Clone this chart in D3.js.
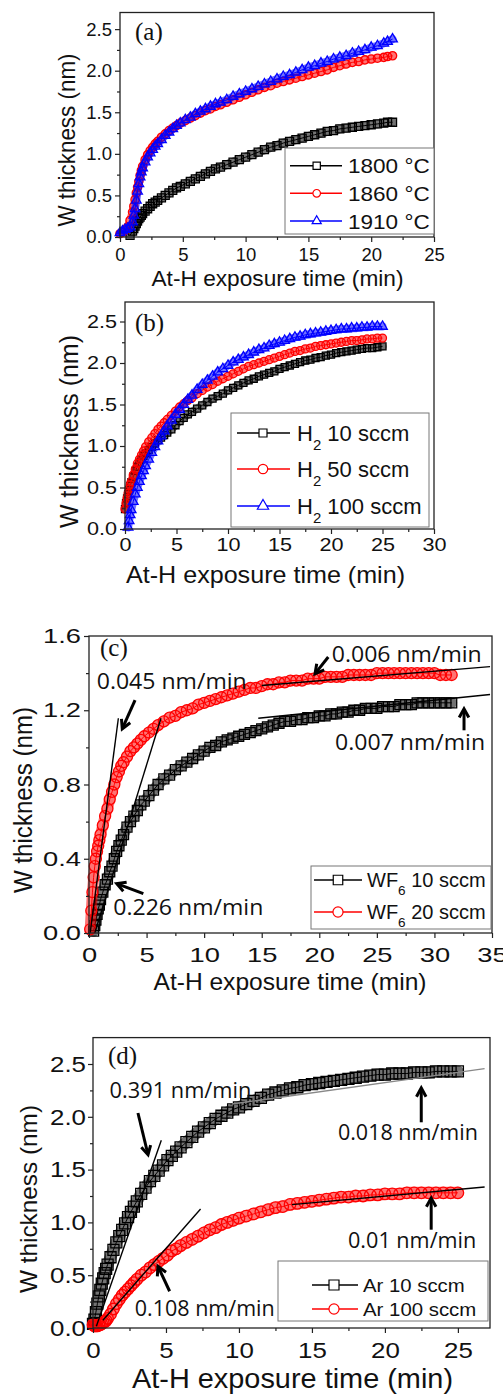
<!DOCTYPE html>
<html>
<head>
<meta charset="utf-8">
<script src="https://cdn.jsdelivr.net/npm/d3@7"></script>
<style>
  body { margin: 0; background: #fff; }
  svg { display: block; }
</style>
</head>
<body>
<div id="chart"></div>
<script>
// ---------- data ----------

// (a) substrate temperature
var timesA = [0, 0.2, 0.4, 0.6, 0.8, 1.0, 1.1, 1.2, 1.3, 1.4, 1.5, 1.6, 1.7, 1.8, 2.0, 2.2, 2.4, 2.6, 2.8, 3.0,
  3.3, 3.6, 3.9, 4.2, 4.5, 4.8, 5.2, 5.6, 6.0, 6.4, 6.8, 7.2, 7.6, 8.0, 8.5, 9.0, 9.5, 10.0, 10.5, 11.0,
  11.5, 12.0, 12.5, 13.0, 13.5, 14.0, 14.5, 15.0, 15.5, 16.0, 16.5, 17.0, 17.5, 18.0, 18.5, 19.0, 19.5, 20.0,
  20.5, 21.0, 21.3, 21.7];
var w1800 = [null, null, null, null, 0.02, 0.07, 0.1, 0.13, 0.16, 0.19, 0.22, 0.24, 0.26, 0.28, 0.31, 0.34, 0.37, 0.4, 0.42, 0.44,
  0.47, 0.5, 0.53, 0.56, 0.59, 0.61, 0.64, 0.67, 0.7, 0.73, 0.76, 0.79, 0.82, 0.84, 0.87, 0.9, 0.93, 0.96, 0.99, 1.02,
  1.05, 1.08, 1.1, 1.13, 1.15, 1.17, 1.19, 1.21, 1.23, 1.25, 1.27, 1.28, 1.3, 1.31, 1.32, 1.33, 1.34, 1.35,
  1.36, 1.37, 1.38, 1.38];
var w1860 = [0.04, 0.06, 0.08, 0.12, 0.2, 0.3, 0.37, 0.45, 0.53, 0.6, 0.67, 0.74, 0.8, 0.85, 0.93, 0.99, 1.04, 1.08, 1.12, 1.15,
  1.2, 1.24, 1.28, 1.31, 1.34, 1.37, 1.4, 1.43, 1.46, 1.49, 1.52, 1.54, 1.57, 1.59, 1.62, 1.65, 1.68, 1.71, 1.74, 1.77,
  1.8, 1.82, 1.85, 1.87, 1.89, 1.91, 1.93, 1.95, 1.97, 1.99, 2.01, 2.04, 2.06, 2.08, 2.1, 2.11, 2.13, 2.14,
  2.15, 2.16, 2.17, 2.18];
var w1910 = [0.05, 0.07, 0.09, 0.1, 0.12, 0.18, 0.26, 0.34, 0.44, 0.55, 0.64, 0.72, 0.78, 0.83, 0.9, 0.96, 1.01, 1.05, 1.09, 1.12,
  1.17, 1.22, 1.26, 1.3, 1.34, 1.37, 1.41, 1.44, 1.48, 1.51, 1.54, 1.57, 1.6, 1.62, 1.65, 1.69, 1.72, 1.75, 1.78, 1.81,
  1.84, 1.87, 1.9, 1.93, 1.95, 1.98, 2.01, 2.04, 2.06, 2.09, 2.11, 2.14, 2.16, 2.18, 2.21, 2.23, 2.25, 2.28,
  2.3, 2.33, 2.35, 2.38];
var legendA = ["1800 °C", "1860 °C", "1910 °C"];

// (b) H2 flow
var timesB = [0, 0.1, 0.2, 0.3, 0.4, 0.5, 0.6, 0.8, 1.0, 1.2, 1.4, 1.6, 1.8, 2.0, 2.3, 2.6, 2.9, 3.2, 3.5, 3.8, 4.1,
  4.5, 4.9, 5.3, 5.7, 6.1, 6.5, 7.0, 7.5, 8.0, 8.5, 9.0, 9.5, 10.0, 10.5, 11.0, 11.5, 12.0, 12.5, 13.0, 13.5,
  14.0, 14.5, 15.0, 15.5, 16.0, 16.5, 17.0, 17.5, 18.0, 18.5, 19.0, 19.5, 20.0, 20.5, 21.0, 21.5, 22.0, 22.5,
  23.0, 23.5, 24.0, 24.5, 25.0];
var wH10 = [0.24, 0.31, 0.37, 0.42, 0.47, 0.52, 0.56, 0.63, 0.7, 0.75, 0.8, 0.84, 0.88, 0.91, 0.95, 0.99, 1.03, 1.07, 1.1, 1.13, 1.16,
  1.2, 1.25, 1.3, 1.34, 1.38, 1.41, 1.45, 1.49, 1.53, 1.57, 1.6, 1.63, 1.67, 1.7, 1.73, 1.76, 1.79, 1.81, 1.84, 1.86,
  1.88, 1.9, 1.93, 1.95, 1.97, 1.99, 2.01, 2.03, 2.04, 2.06, 2.07, 2.09, 2.1, 2.12, 2.13, 2.14, 2.15, 2.16,
  2.17, 2.18, 2.18, 2.19, 2.2];
var wH50 = [0.24, 0.31, 0.37, 0.43, 0.48, 0.53, 0.57, 0.65, 0.72, 0.79, 0.84, 0.89, 0.94, 0.99, 1.05, 1.1, 1.15, 1.2, 1.24, 1.28, 1.32,
  1.37, 1.42, 1.47, 1.51, 1.55, 1.58, 1.63, 1.67, 1.71, 1.74, 1.78, 1.81, 1.84, 1.87, 1.9, 1.93, 1.96, 1.98, 2.0, 2.02,
  2.04, 2.06, 2.08, 2.1, 2.12, 2.14, 2.15, 2.17, 2.18, 2.2, 2.21, 2.22, 2.23, 2.24, 2.25, 2.26, 2.27, 2.27,
  2.28, 2.29, 2.29, 2.3, 2.3];
var wH100 = [null, null, null, 0.02, 0.1, 0.17, 0.23, 0.33, 0.42, 0.5, 0.57, 0.64, 0.7, 0.76, 0.84, 0.92, 0.99, 1.06, 1.12, 1.18, 1.24,
  1.31, 1.38, 1.44, 1.5, 1.56, 1.61, 1.68, 1.74, 1.79, 1.84, 1.89, 1.93, 1.97, 2.01, 2.04, 2.07, 2.1, 2.13, 2.16, 2.18,
  2.21, 2.23, 2.25, 2.27, 2.29, 2.31, 2.32, 2.34, 2.35, 2.36, 2.37, 2.38, 2.39, 2.4, 2.41, 2.41, 2.42, 2.42,
  2.43, 2.43, 2.44, 2.44, 2.44];
var legendB = [["H", "2", " 10 sccm"], ["H", "2", " 50 sccm"], ["H", "2", " 100 sccm"]];

// (c) WF6 flow
var timesC = [0, 0.1, 0.2, 0.3, 0.4, 0.5, 0.6, 0.7, 0.8, 0.9, 1.0, 1.2, 1.4, 1.6, 1.8, 2.0, 2.2, 2.4, 2.6, 2.8, 3.0,
  3.3, 3.6, 3.9, 4.2, 4.5, 4.8, 5.2, 5.6, 6.0, 6.5, 7.0, 7.5, 8.0, 8.5, 9.0, 9.5, 10.0, 10.5, 11.0, 11.5, 12.0,
  12.5, 13.0, 13.5, 14.0, 14.5, 15.0, 15.5, 16.0, 16.5, 17.0, 17.5, 18.0, 18.5, 19.0, 19.5, 20.0, 20.5, 21.0,
  21.5, 22.0, 22.5, 23.0, 23.5, 24.0, 24.5, 25.0, 25.5, 26.0, 26.5, 27.0, 27.5, 28.0, 28.5, 29.0, 29.5, 30.0,
  30.5, 31.0, 31.5];
var wWF10 = [null, null, null, null, 0.01, 0.04, 0.07, 0.1, 0.13, 0.15, 0.18, 0.22, 0.26, 0.29, 0.33, 0.36, 0.4, 0.44, 0.47, 0.5, 0.53,
  0.57, 0.6, 0.63, 0.66, 0.69, 0.71, 0.74, 0.77, 0.8, 0.83, 0.85, 0.88, 0.9, 0.92, 0.94, 0.96, 0.98, 1.0, 1.01, 1.03, 1.04,
  1.05, 1.06, 1.07, 1.08, 1.09, 1.1, 1.11, 1.12, 1.13, 1.14, 1.14, 1.15, 1.15, 1.16, 1.16, 1.17, 1.17, 1.18,
  1.18, 1.19, 1.19, 1.2, 1.2, 1.21, 1.21, 1.21, 1.22, 1.22, 1.22, 1.23, 1.23, 1.23, 1.24, 1.24, 1.24, 1.24,
  1.24, 1.24, 1.24];
var wWF20 = [null, 0.02, 0.12, 0.22, 0.3, 0.36, 0.4, 0.44, 0.47, 0.5, 0.53, 0.58, 0.63, 0.67, 0.72, 0.76, 0.8, 0.84, 0.87, 0.9, 0.92,
  0.95, 0.98, 1.0, 1.02, 1.04, 1.06, 1.08, 1.1, 1.12, 1.14, 1.16, 1.17, 1.19, 1.2, 1.21, 1.23, 1.24, 1.25, 1.26, 1.27, 1.28,
  1.29, 1.3, 1.31, 1.32, 1.32, 1.33, 1.34, 1.34, 1.35, 1.35, 1.36, 1.36, 1.36, 1.37, 1.37, 1.37, 1.38, 1.38,
  1.38, 1.38, 1.39, 1.39, 1.39, 1.39, 1.39, 1.4, 1.4, 1.4, 1.4, 1.4, 1.4, 1.4, 1.4, 1.4, 1.4, 1.4,
  1.39, 1.39, 1.39];
var legendC = [["WF", "6", " 10 sccm"], ["WF", "6", " 20 sccm"]];
var fitsC = [[0.1, 0, 2.55, 1.157], [0.5, 0, 6.25, 1.157], [15.0, 1.333, 34.83, 1.435], [14.7, 1.157, 34.83, 1.285]];
var arrowsC = [[20.78, 1.487, 19.63, 1.397], [4.0, 1.254, 2.89, 1.1], [32.57, 1.092, 32.57, 1.208], [4.72, 0.212, 2.41, 0.266]];
var notesC = ["0.006 nm/min", "0.045 nm/min", "0.007 nm/min", "0.226 nm/min"];
var notePosC = [[21.08, 1.46], [0.67, 1.316], [21.37, 0.984], [2.11, 0.095]];

// (d) Ar flow
var timesD = [0, 0.1, 0.2, 0.3, 0.4, 0.5, 0.6, 0.7, 0.8, 0.9, 1.0, 1.2, 1.4, 1.6, 1.8, 2.0, 2.2, 2.4, 2.6, 2.8, 3.0,
  3.3, 3.6, 3.9, 4.2, 4.5, 4.8, 5.1, 5.4, 5.7, 6.0, 6.4, 6.8, 7.2, 7.6, 8.0, 8.4, 8.8, 9.2, 9.6, 10.0,
  10.5, 11.0, 11.5, 12.0, 12.5, 13.0, 13.5, 14.0, 14.5, 15.0, 15.5, 16.0, 16.5, 17.0, 17.5, 18.0, 18.5, 19.0,
  19.5, 20.0, 20.5, 21.0, 21.5, 22.0, 22.5, 23.0, 23.5, 24.0, 24.5, 25.0];
var wAr10 = [0.04, 0.08, 0.15, 0.23, 0.3, 0.36, 0.42, 0.47, 0.52, 0.56, 0.6, 0.67, 0.74, 0.81, 0.87, 0.93, 0.99, 1.05, 1.1, 1.15, 1.2,
  1.27, 1.33, 1.39, 1.44, 1.49, 1.54, 1.59, 1.63, 1.67, 1.71, 1.76, 1.81, 1.86, 1.9, 1.94, 1.98, 2.01, 2.04, 2.07, 2.09,
  2.12, 2.15, 2.18, 2.21, 2.23, 2.25, 2.27, 2.28, 2.3, 2.31, 2.32, 2.33, 2.34, 2.35, 2.36, 2.37, 2.38, 2.39,
  2.4, 2.4, 2.41, 2.41, 2.41, 2.42, 2.42, 2.42, 2.43, 2.43, 2.43, 2.43];
var wAr100 = [0.03, 0.02, 0.02, 0.02, 0.03, 0.03, 0.04, 0.05, 0.06, 0.07, 0.09, 0.13, 0.18, 0.23, 0.27, 0.31, 0.34, 0.37, 0.4, 0.43, 0.46,
  0.5, 0.53, 0.57, 0.6, 0.63, 0.66, 0.69, 0.73, 0.75, 0.78, 0.81, 0.84, 0.87, 0.9, 0.93, 0.95, 0.98, 1.0, 1.02, 1.04,
  1.06, 1.08, 1.1, 1.12, 1.14, 1.15, 1.17, 1.18, 1.19, 1.2, 1.21, 1.22, 1.23, 1.24, 1.24, 1.25, 1.25, 1.26,
  1.26, 1.27, 1.27, 1.27, 1.28, 1.28, 1.28, 1.28, 1.28, 1.28, 1.28, 1.28];
var legendD = ["Ar 10 sccm", "Ar 100 sccm"];
var fitsD = [[0.23, 0.016, 4.68, 1.777], [0.68, 0.073, 7.37, 1.127], [9.52, 2.121, 26.83, 2.456], [13.63, 1.168, 26.83, 1.335]];
var arrowsD = [[3.08, 2.036, 3.77, 1.641], [22.49, 1.948, 22.49, 2.273], [23.17, 0.931, 23.17, 1.231], [5.25, 0.348, 4.45, 0.584]];
var notesD = ["0.391 nm/min", "0.018 nm/min", "0.01 nm/min", "0.108 nm/min"];
var notePosD = [[1.14, 2.178], [16.78, 1.783], [17.47, 0.758], [2.86, 0.111]];

// ticks
var xTicks25 = [0, 5, 10, 15, 20, 25], xMinor25 = [2.5, 7.5, 12.5, 17.5, 22.5];
var xTicks30 = [0, 5, 10, 15, 20, 25, 30], xMinor30 = [2.5, 7.5, 12.5, 17.5, 22.5, 27.5];
var xTicks35 = [0, 5, 10, 15, 20, 25, 30, 35], xMinor35 = [2.5, 7.5, 12.5, 17.5, 22.5, 27.5, 32.5];
var yTicks25 = [0, 0.5, 1.0, 1.5, 2.0, 2.5], yMinor25 = [0.25, 0.75, 1.25, 1.75, 2.25];
var yTicks16 = [0, 0.4, 0.8, 1.2, 1.6], yMinor16 = [0.2, 0.6, 1.0, 1.4];

// ---------- drawing ----------
var W = 503, H = 1395;
var sans = "'Liberation Sans', Arial, sans-serif";
var svg = d3.select("#chart").append("svg").attr("width", W).attr("height", H);
svg.append("rect").attr("width", W).attr("height", H).attr("fill", "#fff");

// squeeze/stretch a text to a given length
function fitLen(sel, len) {
  sel.attr("textLength", len).attr("lengthAdjust", "spacingAndGlyphs");
}
function stretch(sel, k) {
  sel.each(function() {
    var w = this.getComputedTextLength();
    d3.select(this).attr("textLength", w * k).attr("lengthAdjust", "spacingAndGlyphs");
  });
}

function drawPanel(p) {
  var x = d3.scaleLinear().domain([0, p.xMax]).range([p.left, p.right]);
  var y = d3.scaleLinear().domain([0, p.yMax]).range([p.bottom, p.top]);
  var g = svg.append("g");
  var line = d3.line().x(d => x(d.t)).y(d => y(d.v));

  // data series: overlapping open symbols form a band
  p.series.forEach(function(s) {
    var pts = p.times.map(function(t, i) { return {t: t, v: s.values[i]}; })
      .filter(function(d) { return d.v != null; });
    g.append("path").datum(pts)
      .attr("fill", "none").attr("stroke", s.color).attr("stroke-opacity", 0.55)
      .attr("stroke-width", s.band).attr("stroke-linejoin", "round").attr("stroke-linecap", "round")
      .attr("d", line);
    g.append("path").datum(pts)
      .attr("fill", "none").attr("stroke", s.color).attr("stroke-width", 1)
      .attr("d", line);
    g.append("g").selectAll("path").data(pts).enter().append("path")
      .attr("transform", d => `translate(${x(d.t)},${y(d.v)})`)
      .attr("d", d3.symbol().type(s.symbol).size(s.size))
      .attr("fill", "none").attr("stroke", s.color).attr("stroke-width", 1.3);
  });

  // fit lines, arrows, notes
  if (p.fits) {
    p.fits.forEach(function(f, i) {
      g.append("line")
        .attr("x1", x(f[0])).attr("y1", y(f[1])).attr("x2", x(f[2])).attr("y2", y(f[3]))
        .attr("stroke", p.fitColors[i]).attr("stroke-width", 1.4);
    });
    p.arrows.forEach(function(a) {
      var x0 = x(a[0]), y0 = y(a[1]), x1 = x(a[2]), y1 = y(a[3]);
      var ang = Math.atan2(y1 - y0, x1 - x0), L = 10, sp = 0.5;
      var p1 = [x1 - L * Math.cos(ang - sp), y1 - L * Math.sin(ang - sp)];
      var p2 = [x1 - L * Math.cos(ang + sp), y1 - L * Math.sin(ang + sp)];
      g.append("line").attr("x1", x0).attr("y1", y0)
        .attr("x2", x1 - 2 * Math.cos(ang)).attr("y2", y1 - 2 * Math.sin(ang))
        .attr("stroke", "#000").attr("stroke-width", 3);
      g.append("path").attr("d", `M${p1[0]},${p1[1]}L${x1},${y1}L${p2[0]},${p2[1]}`)
        .attr("fill", "none").attr("stroke", "#000").attr("stroke-width", 3)
        .attr("stroke-linejoin", "miter");
    });
    p.notes.forEach(function(n, i) {
      var t = g.append("text").text(n)
        .attr("x", x(p.notePos[i][0])).attr("y", y(p.notePos[i][1]))
        .attr("font-family", "'Open Sans', sans-serif").attr("font-size", 21).attr("fill", "#111");
      fitLen(t, p.noteLen[i]);
    });
  }

  // frame
  g.append("rect").attr("x", p.left).attr("y", p.top)
    .attr("width", p.right - p.left).attr("height", p.bottom - p.top)
    .attr("fill", "none").attr("stroke", "#222").attr("stroke-width", 1.3);

  // axes
  var gx = g.append("g").attr("transform", `translate(0,${p.bottom})`).style("color", "#222")
    .call(d3.axisBottom(x).tickValues(p.xTicks).tickSize(5).tickSizeOuter(0)
      .tickPadding(p.xPad).tickFormat(d3.format("d")));
  gx.append("g").call(d3.axisBottom(x).tickValues(p.xMinor).tickSize(3).tickSizeOuter(0).tickFormat(""))
    .select(".domain").remove();
  gx.select(".domain").remove();
  var gy = g.append("g").attr("transform", `translate(${p.left},0)`).style("color", "#222")
    .call(d3.axisLeft(y).tickValues(p.yTicks).tickSize(5).tickSizeOuter(0)
      .tickPadding(p.yPad).tickFormat(d3.format(".1f")));
  gy.append("g").call(d3.axisLeft(y).tickValues(p.yMinor).tickSize(3).tickSizeOuter(0).tickFormat(""))
    .select(".domain").remove();
  gy.select(".domain").remove();
  [gx, gy].forEach(function(a) {
    a.selectAll("line").attr("stroke-width", 1.2);
    var tx = a.selectAll("text").attr("font-size", p.tickFont).attr("font-family", sans).attr("fill", "#111");
    stretch(tx, p.tickK);
  });

  // axis titles
  var xt = g.append("text").text("At-H exposure time (min)")
    .attr("x", p.xTitle[0]).attr("y", p.xTitle[1]).attr("text-anchor", "middle")
    .attr("font-family", sans).attr("font-size", p.xTitle[2]).attr("fill", "#111");
  fitLen(xt, p.xTitle[3]);
  var yt = g.append("text").text("W thickness (nm)")
    .attr("transform", `translate(${p.yTitle[0]},${p.yTitle[1]}) rotate(-90)`)
    .attr("text-anchor", "middle")
    .attr("font-family", sans).attr("font-size", p.yTitle[2]).attr("fill", "#111");
  fitLen(yt, p.yTitle[3]);

  // panel letter
  g.append("text").text(p.name).attr("x", p.label[0]).attr("y", p.label[1])
    .attr("font-family", "'Liberation Serif', 'Times New Roman', serif").attr("font-size", 25).attr("fill", "#111");

  // legend
  var lg = p.legend;
  g.append("rect").attr("x", lg.box[0]).attr("y", lg.box[1])
    .attr("width", lg.box[2] - lg.box[0]).attr("height", lg.box[3] - lg.box[1])
    .attr("fill", "#fff").attr("stroke", "#777").attr("stroke-width", 1);
  p.series.forEach(function(s, i) {
    var ry = lg.rows[i];
    g.append("line").attr("x1", lg.line[0]).attr("x2", lg.line[1]).attr("y1", ry).attr("y2", ry)
      .attr("stroke", s.color).attr("stroke-width", 1.5);
    g.append("path").attr("transform", `translate(${lg.mark},${ry})`)
      .attr("d", d3.symbol().type(s.symbol).size(lg.sizes[i]))
      .attr("fill", "#fff").attr("stroke", s.color).attr("stroke-width", 1.2);
    var t = g.append("text").attr("x", lg.textX).attr("y", ry).attr("dy", "0.36em")
      .attr("font-family", sans).attr("font-size", lg.font).attr("fill", "#111");
    var lab = p.labels[i];
    if (Array.isArray(lab)) {
      t.append("tspan").text(lab[0]);
      t.append("tspan").text(lab[1]).attr("font-size", lg.font * 0.68).attr("dy", lg.font * 0.4);
      t.append("tspan").text(lab[2]).attr("dy", -lg.font * 0.4);
    } else {
      t.text(lab);
      if (lg.lens) fitLen(t, lg.lens[i]);
    }
  });
}

drawPanel({
  name: "(a)", left: 120, right: 434, top: 12.5, bottom: 237, xMax: 25, yMax: 2.7,
  xTicks: xTicks25, xMinor: xMinor25, yTicks: yTicks25, yMinor: yMinor25,
  tickFont: 18.5, tickK: 1.0, xPad: 6, yPad: 3,
  xTitle: [277.5, 286, 22, 252], yTitle: [75, 140, 24, 173], label: [135, 40],
  times: timesA,
  series: [
    {values: w1800, color: "#000", symbol: d3.symbolSquare, size: 64, band: 9},
    {values: w1860, color: "#ff0000", symbol: d3.symbolCircle, size: 54, band: 8},
    {values: w1910, color: "#0000ff", symbol: d3.symbolTriangle, size: 40, band: 8}
  ],
  labels: legendA,
  legend: {box: [285, 148, 434, 234], rows: [165.7, 193.3, 221], line: [290, 342], mark: 316.7,
    textX: 348, font: 21, sizes: [53, 45, 36], lens: [81.7, 81.7, 81.7]}
});

drawPanel({
  name: "(b)", left: 125, right: 434, top: 302, bottom: 529, xMax: 30, yMax: 2.735,
  xTicks: xTicks30, xMinor: xMinor30, yTicks: yTicks25, yMinor: yMinor25,
  tickFont: 18, tickK: 1.2, xPad: 4, yPad: 3,
  xTitle: [265.5, 583, 24, 279], yTitle: [78, 431.5, 25, 193], label: [135, 331],
  times: timesB,
  series: [
    {values: wH10, color: "#000", symbol: d3.symbolSquare, size: 49, band: 8},
    {values: wH50, color: "#ff0000", symbol: d3.symbolCircle, size: 50, band: 8},
    {values: wH100, color: "#0000ff", symbol: d3.symbolTriangle, size: 40, band: 8}
  ],
  labels: legendB,
  legend: {box: [231, 413, 429, 527], rows: [433, 469, 506], line: [237, 290], mark: 263,
    textX: 297, font: 22, sizes: [64, 70, 55]}
});

drawPanel({
  name: "(c)", left: 89, right: 492, top: 636, bottom: 933, xMax: 35, yMax: 1.6,
  xTicks: xTicks35, xMinor: xMinor35, yTicks: yTicks16, yMinor: yMinor16,
  tickFont: 21, tickK: 1.3, xPad: 8.7, yPad: 3,
  xTitle: [290, 990, 24, 273], yTitle: [31.5, 800, 25, 186], label: [100, 656],
  times: timesC,
  series: [
    {values: wWF10, color: "#000", symbol: d3.symbolSquare, size: 100, band: 11},
    {values: wWF20, color: "#ff0000", symbol: d3.symbolCircle, size: 95, band: 11}
  ],
  fits: fitsC, fitColors: ["#000", "#000", "#000", "#000"],
  arrows: arrowsC, notes: notesC, notePos: notePosC, noteLen: [150, 150, 150, 150],
  labels: legendC,
  legend: {box: [311, 866, 491, 929], rows: [880, 912], line: [314, 362], mark: 338,
    textX: 367, font: 20, sizes: [90, 80]}
});

drawPanel({
  name: "(d)", left: 93, right: 490, top: 1037.6, bottom: 1328, xMax: 27.2, yMax: 2.75,
  xTicks: xTicks25, xMinor: xMinor25, yTicks: yTicks25, yMinor: yMinor25,
  tickFont: 22.5, tickK: 1.15, xPad: 8.7, yPad: 2,
  xTitle: [292.5, 1388, 28, 321], yTitle: [36.5, 1199, 24, 188], label: [108, 1064],
  times: timesD,
  series: [
    {values: wAr10, color: "#000", symbol: d3.symbolSquare, size: 121, band: 12},
    {values: wAr100, color: "#ff0000", symbol: d3.symbolCircle, size: 104, band: 12}
  ],
  fits: fitsD, fitColors: ["#000", "#000", "#888", "#000"],
  arrows: arrowsD, notes: notesD, notePos: notePosD, noteLen: [141.7, 140, 128.3, 140],
  labels: legendD,
  legend: {box: [278, 1261, 488, 1321], rows: [1285, 1309], line: [312, 358], mark: 334,
    textX: 363, font: 19, sizes: [100, 80], lens: [101.7, 113.3]}
});
</script>
</body>
</html>
